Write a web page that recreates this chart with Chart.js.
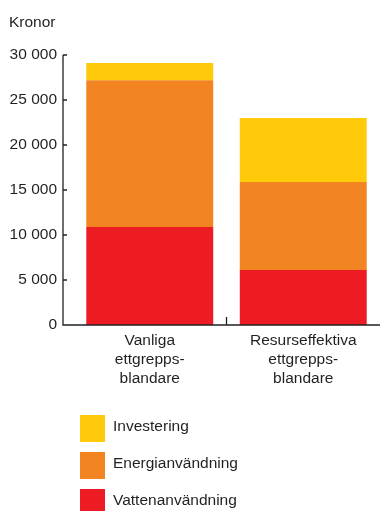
<!DOCTYPE html>
<html>
<head>
<meta charset="utf-8">
<script src="https://cdn.jsdelivr.net/npm/chart.js@4/dist/chart.umd.min.js"></script>
<style>
  html, body { margin: 0; padding: 0; background: #fff; }
  #wrap { width: 380px; height: 511px; position: relative; }
</style>
</head>
<body>
<div id="wrap"><canvas id="grafico"></canvas></div>
<script>
// Data
const kategorier = [['Vanliga', 'ettgrepps-', 'blandare'], ['Resurseffektiva', 'ettgrepps-', 'blandare']];
const vattenanvandning = [10900, 6100];
const energianvandning = [16300, 9800];
const investering = [1900, 7100];
const serieNamn = ['Vattenanvändning', 'Energianvändning', 'Investering'];
const serieFarger = ['#ed1c24', '#f28522', '#ffca0a'];
const yTicks = [0, 5000, 10000, 15000, 20000, 25000, 30000];
const yEnhet = 'Kronor';

const textFarg = '#231f20';
const font = 'Liberation Sans, Arial, Helvetica, sans-serif';

function formatera(v) {
    return String(v).replace(/\B(?=(\d{3})+(?!\d))/g, ' ');
}

// Axlar, tickmarkeringar, enhet och legend ritas för hand
const extrasPlugin = {
    id: 'extras',
    afterDraw(chart) {
        const ctx = chart.ctx;
        const x = chart.scales.x;
        const y = chart.scales.y;
        const axelX = 63;
        const y0 = y.getPixelForValue(0);
        const yTop = y.getPixelForValue(yTicks[yTicks.length - 1]);

        ctx.save();
        ctx.strokeStyle = textFarg;
        ctx.lineWidth = 1.3;
        ctx.beginPath();
        ctx.moveTo(axelX, yTop);
        ctx.lineTo(axelX, y0);
        ctx.lineTo(chart.width, y0);
        yTicks.forEach(v => {
            const py = y.getPixelForValue(v);
            ctx.moveTo(axelX, py);
            ctx.lineTo(axelX + 4, py);
        });
        for (let i = 0; i < kategorier.length - 1; i++) {
            const px = (x.getPixelForValue(i) + x.getPixelForValue(i + 1)) / 2;
            ctx.moveTo(px, y0);
            ctx.lineTo(px, y0 - 8);
        }
        ctx.stroke();

        ctx.fillStyle = textFarg;
        ctx.font = '15.5px ' + font;
        ctx.textAlign = 'left';
        ctx.textBaseline = 'middle';
        ctx.fillText(yEnhet, 9, 23);

        // Legend, i omvänd ordning (översta serien först)
        const data = chart.data.datasets;
        for (let i = 0; i < data.length; i++) {
            const ds = data[data.length - 1 - i];
            const top = 415 + i * 37;
            ctx.fillStyle = ds.backgroundColor;
            ctx.fillRect(80, top, 25, 27);
            ctx.fillStyle = textFarg;
            ctx.fillText(ds.label, 113, top + 12);
        }
        ctx.restore();
    }
};

new Chart(document.getElementById('grafico'), {
    type: 'bar',
    data: {
        labels: kategorier,
        datasets: [
            { label: serieNamn[0], data: vattenanvandning, backgroundColor: serieFarger[0] },
            { label: serieNamn[1], data: energianvandning, backgroundColor: serieFarger[1] },
            { label: serieNamn[2], data: investering, backgroundColor: serieFarger[2] }
        ]
    },
    options: {
        responsive: true,
        maintainAspectRatio: false,
        animation: false,
        events: [],
        layout: { padding: { top: 55, left: 0, right: 0, bottom: 0 } },
        datasets: { bar: { categoryPercentage: 1, barPercentage: 0.827, borderWidth: 0 } },
        plugins: {
            legend: { display: false },
            tooltip: { enabled: false }
        },
        scales: {
            x: {
                stacked: true,
                grid: { display: false, drawTicks: false },
                border: { display: false },
                ticks: {
                    color: textFarg,
                    padding: 6,
                    font: { family: font, size: 15.5, lineHeight: 1.23 },
                    maxRotation: 0,
                    autoSkip: false
                },
                afterFit(scale) { scale.height = 186; }
            },
            y: {
                stacked: true,
                min: 0,
                max: 30000,
                grid: { display: false, drawTicks: false },
                border: { display: false },
                afterFit(scale) { scale.width = 73; },
                afterBuildTicks(scale) { scale.ticks = yTicks.map(v => ({ value: v })); },
                ticks: {
                    color: textFarg,
                    padding: 16,
                    font: { family: font, size: 15.5 },
                    callback: v => formatera(v)
                }
            }
        }
    },
    plugins: [extrasPlugin]
});
</script>
</body>
</html>
